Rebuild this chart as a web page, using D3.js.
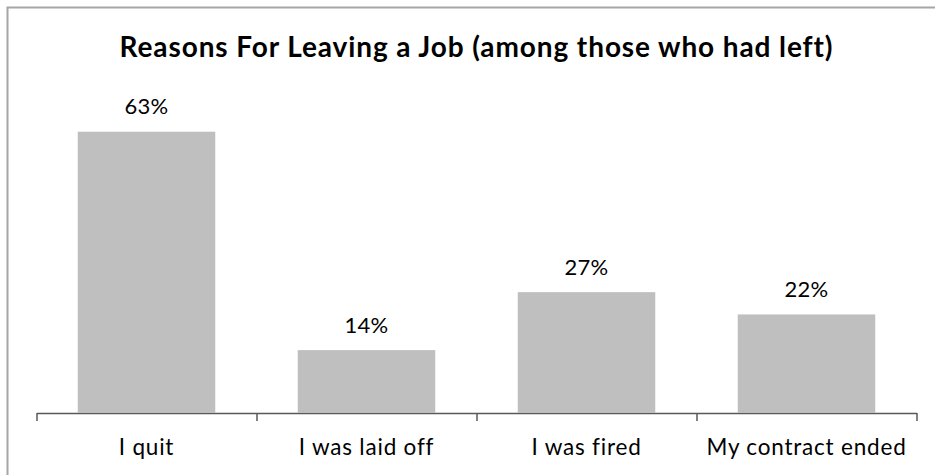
<!DOCTYPE html>
<html>
<head>
<meta charset="utf-8">
<script src="https://cdn.jsdelivr.net/npm/d3@7/dist/d3.min.js"></script>
<style>
  html, body { margin: 0; padding: 0; background: #fff; }
  svg { display: block; }
  text { font-family: Lato, "Open Sans", sans-serif; fill: #000; }
</style>
</head>
<body>
<svg id="chart" width="935" height="475"></svg>
<script>
// Survey results: share of respondents by reason for leaving
const categories = ["I quit", "I was laid off", "I was fired", "My contract ended"];
const values = [63, 14, 27, 22];
const valueLabels = ["63%", "14%", "27%", "22%"];
const chartTitle = "Reasons For Leaving a Job (among those who had left)";

const W = 935, H = 475;
const plot = { left: 36.5, right: 916.5, top: 100.5, bottom: 412.5 };

const svg = d3.select("#chart");

// outer frame (only top and left edges fall inside the view)
svg.append("rect")
  .attr("x", 7.5).attr("y", 7.5)
  .attr("width", W + 20).attr("height", H + 20)
  .attr("fill", "none")
  .attr("stroke", "#a6a6a6")
  .attr("stroke-width", 2);

const x = d3.scaleBand()
  .domain(categories)
  .range([plot.left, plot.right])
  .paddingInner(0.375)
  .paddingOuter(0.1875);

const y = d3.scaleLinear()
  .domain([0, 70])
  .range([plot.bottom, plot.top]);

// bars
svg.append("g")
  .selectAll("rect")
  .data(values)
  .join("rect")
  .attr("x", (d, i) => x(categories[i]))
  .attr("y", d => y(d))
  .attr("width", x.bandwidth())
  .attr("height", d => y(0) - y(d))
  .attr("fill", "#bfbfbf");

// value labels above bars
svg.append("g")
  .selectAll("text")
  .data(values)
  .join("text")
  .attr("x", (d, i) => x(categories[i]) + x.bandwidth() / 2)
  .attr("y", d => y(d) - 17.5)
  .attr("text-anchor", "middle")
  .style("font-size", "22px")
  .style("letter-spacing", "0.3px")
  .text((d, i) => valueLabels[i]);

// category axis with tick marks between categories
const edge = d3.scaleLinear()
  .domain([0, categories.length])
  .range([plot.left, plot.right]);

const axis = svg.append("g")
  .attr("transform", `translate(0,${plot.bottom + 0.5})`)
  .call(d3.axisBottom(edge)
    .tickValues(d3.range(categories.length + 1))
    .tickFormat("")
    .tickSize(8)
    .tickSizeOuter(0));
axis.selectAll("path, line")
  .attr("stroke", "#595959")
  .attr("stroke-width", 1.5);

// category labels
svg.append("g")
  .selectAll("text")
  .data(categories)
  .join("text")
  .attr("x", d => x(d) + x.bandwidth() / 2)
  .attr("y", 455)
  .attr("text-anchor", "middle")
  .style("font-size", "22.5px")
  .style("letter-spacing", "0.8px")
  .text(d => d);

// title
svg.append("text")
  .attr("x", (plot.left + plot.right) / 2)
  .attr("y", 56.5)
  .attr("text-anchor", "middle")
  .style("font-size", "28px")
  .style("font-weight", "bold")
  .style("letter-spacing", "0.9px")
  .text(chartTitle);
</script>
</body>
</html>
